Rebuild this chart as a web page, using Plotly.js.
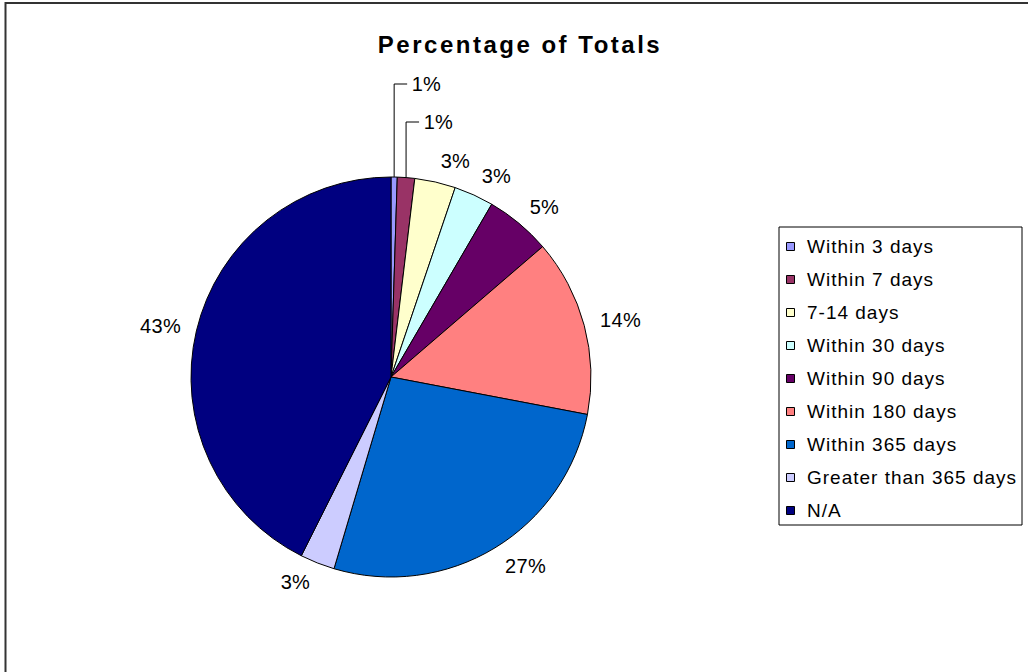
<!DOCTYPE html>
<html>
<head>
<meta charset="utf-8">
<script src="https://cdn.plot.ly/plotly-3.0.1.min.js"></script>
<style>
  html, body { margin: 0; padding: 0; background: #fff; }
  #chart { width: 1028px; height: 672px; }
  .gtitle { letter-spacing: 2.5px; }
  .annotation-text { letter-spacing: 1px; }
  .annotation.pct .annotation-text { letter-spacing: 0.3px; }
</style>
</head>
<body>
<div id="chart"></div>
<script>
const categories = ['Within 3 days', 'Within 7 days', '7-14 days', 'Within 30 days',
  'Within 90 days', 'Within 180 days', 'Within 365 days', 'Greater than 365 days', 'N/A'];
const shares = [0.5, 1.4, 3.3, 3.2, 5.3, 14.3, 26.6, 2.8, 42.6];
const colors = ['#9999FF', '#993366', '#FFFFCC', '#CCFFFF', '#660066',
  '#FF8080', '#0066CC', '#CCCCFF', '#000080'];

const W = 1028, H = 672;
const FONT = 'Liberation Sans, Arial, sans-serif';
const px = x => x / W;
const py = y => 1 - y / H;

// pie geometry in pixels
const cx = 391, cy = 377, R = 200;

let trace = {
  type: 'pie',
  labels: categories,
  values: shares,
  sort: false,
  direction: 'clockwise',
  rotation: 0,
  marker: { colors: colors, line: { color: '#000', width: 1 } },
  textinfo: 'none',
  automargin: false,
  showlegend: false,
  hoverinfo: 'label+percent',
  domain: { x: [px(cx - R), px(cx + R)], y: [py(cy + R), py(cy - R)] },
};

let shapes = [
  { type: 'rect', xref: 'paper', yref: 'paper', x0: px(5.5), x1: px(1040), y0: py(3), y1: py(690),
    line: { color: '#333', width: 2 }, fillcolor: 'rgba(0,0,0,0)' },
];
let annotations = [];

// percentage labels, Excel style: box sits just outside the slice's mid point,
// the two tiny slices get pulled up on leader lines
let total = shares.reduce((a, b) => a + b, 0);
let cum = 0, small = 0;
shares.forEach((v, i) => {
  let mid = (cum + v / 2) / total * 2 * Math.PI;
  cum += v;
  let s = Math.sin(mid), c = Math.cos(mid);
  let txt = Math.round(v / total * 100) + '%';
  let font = { family: FONT, size: 20, color: '#000' };
  if (v / total < 0.02) {
    let x0 = cx + R * s, y0 = cy - R * c;
    let yl = 84 + 38 * small++;
    shapes.push({ type: 'path', xref: 'paper', yref: 'paper',
      path: `M${px(x0)},${py(y0)} L${px(x0)},${py(yl)} L${px(x0 + 13)},${py(yl)}`,
      line: { color: '#000', width: 1 } });
    annotations.push({ xref: 'paper', yref: 'paper', x: px(x0 + 15), y: py(yl), xanchor: 'left', yanchor: 'middle',
      text: txt, showarrow: false, font: font, name: 'pct' });
  } else {
    let g = 13;
    annotations.push({ xref: 'paper', yref: 'paper',
      x: px(cx + (R + g) * s), y: py(cy - (R + g + 8) * c),
      xanchor: s >= 0 ? 'left' : 'right', yanchor: 'middle',
      text: txt, showarrow: false, font: font, name: 'pct' });
  }
});

// hand-made legend so the box and row spacing match
shapes.push({ type: 'rect', xref: 'paper', yref: 'paper', x0: px(779), x1: px(1022), y0: py(227), y1: py(525),
  line: { color: '#000', width: 1 }, fillcolor: '#fff' });
categories.forEach((c, i) => {
  let yc = 246.5 + i * 33;
  shapes.push({ type: 'rect', xref: 'paper', yref: 'paper',
    x0: px(786.5), x1: px(794.5), y0: py(yc - 4), y1: py(yc + 4),
    line: { color: '#000', width: 1 }, fillcolor: colors[i] });
  annotations.push({ xref: 'paper', yref: 'paper', x: px(805), y: py(yc), xanchor: 'left', yanchor: 'middle',
    text: c, showarrow: false, font: { family: FONT, size: 19, color: '#000' } });
});

let layout = {
  width: W, height: H,
  margin: { l: 0, r: 0, t: 0, b: 0 },
  paper_bgcolor: '#fff',
  title: { text: '<b>Percentage of Totals</b>', x: px(520), xanchor: 'center', y: py(45), yanchor: 'middle',
    font: { family: FONT, size: 24, color: '#000' } },
  shapes: shapes,
  annotations: annotations,
  showlegend: false,
};

Plotly.newPlot('chart', [trace], layout, { displayModeBar: false, staticPlot: true }).then(gd => {
  // tighter letter spacing for the percentage labels than for the legend
  gd.querySelectorAll('.annotation').forEach((g, i) => {
    if (gd.layout.annotations[i] && gd.layout.annotations[i].name === 'pct') g.classList.add('pct');
  });
});
</script>
</body>
</html>
